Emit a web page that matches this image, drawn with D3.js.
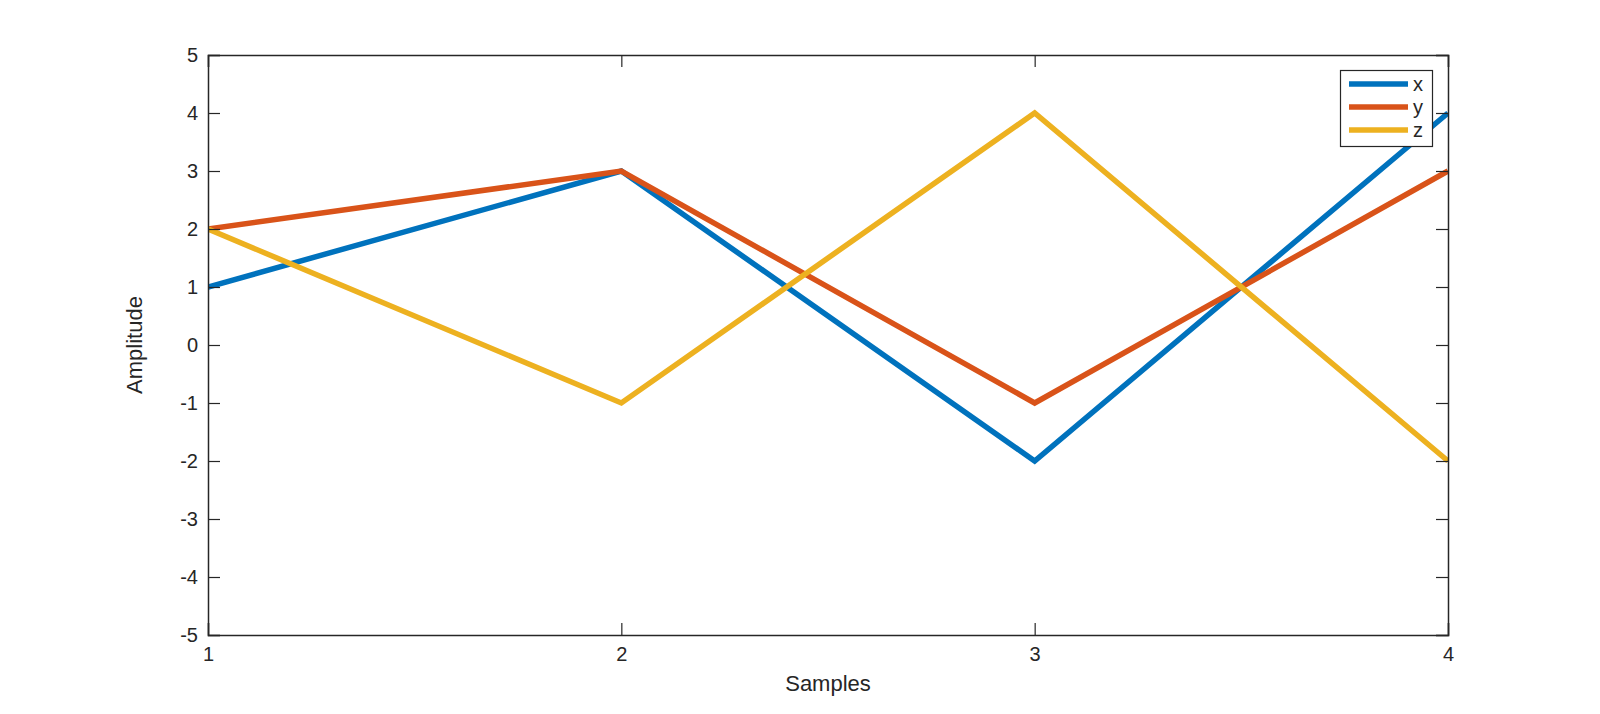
<!DOCTYPE html>
<html>
<head>
<meta charset="utf-8">
<script src="https://cdn.jsdelivr.net/npm/d3@7"></script>
<style>
  html, body { margin: 0; padding: 0; background: #fff; }
  svg { display: block; }
  text { font-family: "Liberation Sans", Arial, Helvetica, sans-serif; fill: #262626; }
</style>
</head>
<body>
<svg id="chart" width="1600" height="714"></svg>
<script>
const samples = [1, 2, 3, 4];
const seriesNames = ["x", "y", "z"];
const xValues = [1, 3, -2, 4];
const yValues = [2, 3, -1, 3];
const zValues = [2, -1, 4, -2];
const seriesColors = ["#0072BD", "#D95319", "#EDB120"];
const xTicks = [1, 2, 3, 4];
const yTicks = [-5, -4, -3, -2, -1, 0, 1, 2, 3, 4, 5];

const series = [xValues, yValues, zValues];

const svg = d3.select("#chart");
const m = { left: 208, right: 1448, top: 55, bottom: 635 };
const xs = d3.scaleLinear().domain([1, 4]).range([m.left, m.right]);
const ys = d3.scaleLinear().domain([-5, 5]).range([m.bottom, m.top]);
const axisColor = "#262626";
const tickLen = 12;
const fmt = d => String(d);

svg.append("clipPath").attr("id", "clip").append("rect")
  .attr("x", m.left).attr("y", m.top).attr("width", m.right - m.left).attr("height", m.bottom - m.top);

const line = d3.line().x((d, i) => xs(samples[i])).y(d => ys(d));
svg.append("g").attr("clip-path", "url(#clip)")
  .selectAll("path").data(series).join("path")
  .attr("d", d => line(d))
  .attr("fill", "none")
  .attr("stroke", (d, i) => seriesColors[i])
  .attr("stroke-width", 5.5)
  .attr("stroke-linejoin", "miter");

const gBottom = svg.append("g").attr("transform", `translate(0,${m.bottom})`)
  .call(d3.axisBottom(xs).tickValues(xTicks).tickFormat(fmt).tickSize(-tickLen).tickPadding(12));
const gTop = svg.append("g").attr("transform", `translate(0,${m.top})`)
  .call(d3.axisTop(xs).tickValues(xTicks).tickFormat("").tickSize(-tickLen));
const gLeft = svg.append("g").attr("transform", `translate(${m.left},0)`)
  .call(d3.axisLeft(ys).tickValues(yTicks).tickFormat(fmt).tickSize(-tickLen).tickPadding(10));
const gRight = svg.append("g").attr("transform", `translate(${m.right},0)`)
  .call(d3.axisRight(ys).tickValues(yTicks).tickFormat("").tickSize(-tickLen));

[gBottom, gTop, gLeft, gRight].forEach(g => {
  g.select(".domain").attr("stroke", axisColor).attr("stroke-width", 1.5);
  g.selectAll(".tick line").attr("stroke", axisColor).attr("stroke-width", 1.2);
  g.selectAll(".tick text").style("font-size", "20px").attr("fill", axisColor)
    .style("font-family", '"Liberation Sans", Arial, sans-serif');
});
gBottom.selectAll(".tick text").attr("dy", "0.71em");

svg.append("text").attr("x", (m.left + m.right) / 2).attr("y", 691)
  .attr("text-anchor", "middle").style("font-size", "22px").text("Samples");
svg.append("text").attr("transform", `translate(142,${(m.top + m.bottom) / 2}) rotate(-90)`)
  .attr("text-anchor", "middle").style("font-size", "22px").text("Amplitude");

const lg = svg.append("g");
lg.append("rect").attr("x", 1340.5).attr("y", 70.5).attr("width", 92).attr("height", 76)
  .attr("fill", "#fff").attr("stroke", axisColor).attr("stroke-width", 1.2);
seriesNames.forEach((name, i) => {
  const yy = 84 + i * 23;
  lg.append("line").attr("x1", 1349).attr("x2", 1408).attr("y1", yy).attr("y2", yy)
    .attr("stroke", seriesColors[i]).attr("stroke-width", 5.5);
  lg.append("text").attr("x", 1413).attr("y", yy).attr("dy", "0.35em")
    .style("font-size", "20px").text(name);
});
</script>
</body>
</html>
